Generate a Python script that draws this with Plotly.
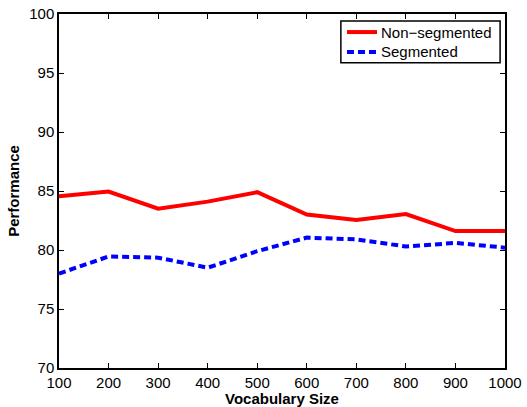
import plotly.graph_objects as go

vocab_sizes = [100, 200, 300, 400, 500, 600, 700, 800, 900, 1000]
non_segmented = [84.55, 84.95, 83.5, 84.1, 84.9, 83.0, 82.55, 83.05, 81.6, 81.6]
segmented = [78.0, 79.45, 79.35, 78.5, 79.9, 81.05, 80.9, 80.3, 80.6, 80.2]

series_names = ["Non\u2212segmented", "Segmented"]
series_colors = ["#ff0000", "#0000ff"]
series_dashes = ["solid", "7px,4px"]

x_ticks = list(range(100, 1001, 100))
y_ticks = list(range(70, 101, 5))

font_family = "Liberation Sans, Arial, sans-serif"

fig = go.Figure()
for name, ys, color, dash in zip(series_names, [non_segmented, segmented],
                                 series_colors, series_dashes):
    fig.add_trace(go.Scatter(
        x=vocab_sizes, y=ys, mode="lines", name=name,
        line=dict(color=color, width=4, dash=dash),
        showlegend=False,
    ))

axis_common = dict(
    showline=True, linecolor="black", linewidth=1.5, mirror="ticks",
    ticks="inside", ticklen=5, tickcolor="black", tickwidth=1,
    showgrid=False, zeroline=False, automargin=False,
    tickfont=dict(family=font_family, size=15, color="black"),
)

# Boxed legend in the upper-right corner of the axes
box = dict(x0=0.632, x1=0.989, y0=0.862, y1=0.980)
row_y = [0.949, 0.893]
sample_x = (0.6457, 0.713)
fig.add_shape(type="rect", xref="paper", yref="paper", **box,
              line=dict(color="black", width=1.5), fillcolor="white", layer="above")
for name, color, dash, yy in zip(series_names, series_colors, series_dashes, row_y):
    fig.add_shape(type="line", xref="paper", yref="paper",
                  x0=sample_x[0], x1=sample_x[1], y0=yy, y1=yy,
                  line=dict(color=color, width=4, dash=dash), layer="above")
    fig.add_annotation(xref="paper", yref="paper", x=sample_x[1] + 0.005, y=yy,
                       xanchor="left", yanchor="middle", text=name, showarrow=False,
                       font=dict(family=font_family, size=15, color="black"))

fig.update_layout(
    width=527, height=407,
    margin=dict(l=59, r=22, t=14, b=39),
    paper_bgcolor="white", plot_bgcolor="white",
    font=dict(family=font_family, size=15, color="black"),
    xaxis=dict(
        range=[100, 1000], tickvals=x_ticks,
        title=dict(text="<b>Vocabulary Size</b>", standoff=2,
                   font=dict(family=font_family, size=15)),
        **axis_common,
    ),
    yaxis=dict(
        range=[70, 100], tickvals=y_ticks,
        title=dict(text="<b>Performance</b>", standoff=6,
                   font=dict(family=font_family, size=15)),
        **axis_common,
    ),
    showlegend=False,
)

fig.write_html("out.html")
